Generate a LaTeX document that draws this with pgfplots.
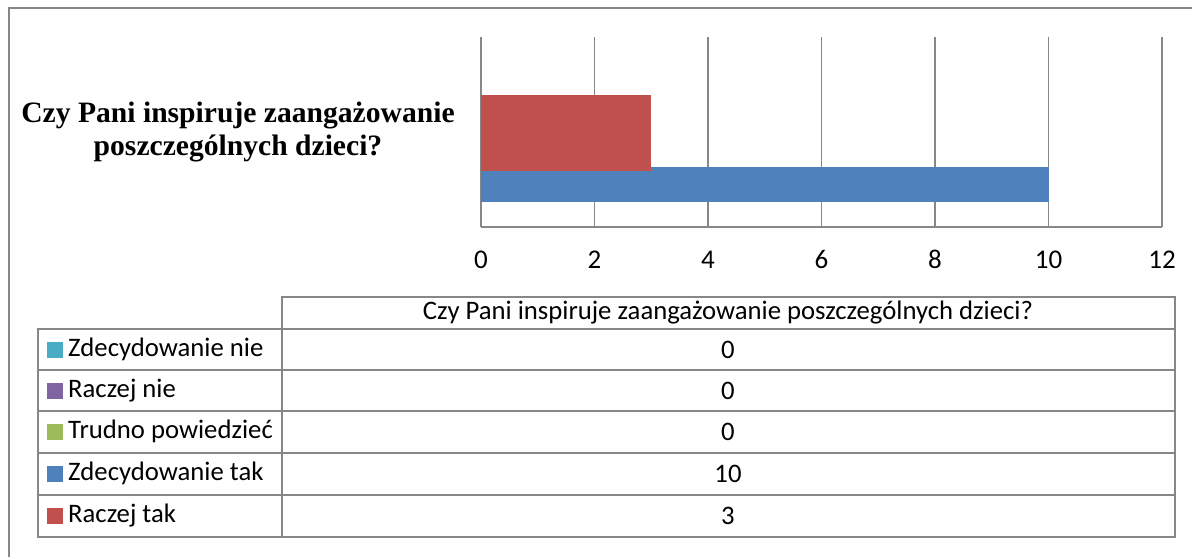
\documentclass[border=0pt]{standalone}
\usepackage{pgfplots}
\pgfplotsset{compat=1.18}
\usepackage{fontspec}
\setmainfont{Carlito}
\newfontfamily\titlefont{Liberation Serif}

\definecolor{xlblue}{HTML}{4F81BD}
\definecolor{xlred}{HTML}{C0504D}
\definecolor{xlgreen}{HTML}{9BBB59}
\definecolor{xlpurple}{HTML}{8064A2}
\definecolor{xlteal}{HTML}{4BACC6}
\definecolor{framegray}{HTML}{878787}

\begin{document}
\begin{tikzpicture}
  \path[use as bounding box] (0pt,0pt) rectangle (1192pt,-557pt);

  \begin{axis}[
      at={(481pt,-227pt)}, anchor=south west,
      scale only axis,
      width=681pt, height=190pt,
      xmin=0, xmax=12,
      ymin=0, ymax=190,
      xtick={0,2,...,12},
      ytick=\empty,
      hide y axis,
      axis x line*=bottom,
      x axis line style={framegray, line width=1.5pt, -},
      major tick length=0pt,
      xmajorgrids,
      grid style={framegray, line width=1.5pt},
      xticklabel style={font=\fontsize{27}{32}\selectfont, anchor=base, yshift=-41pt},
      /pgf/number format/assume math mode=true,
      clip=false,
    ]
    % Zdecydowanie tak
    \addplot[xbar, bar width=35, bar shift=0pt, fill=xlblue, draw=none]
      coordinates {(10,42.5)};
    % Raczej tak
    \addplot[xbar, bar width=76, bar shift=0pt, fill=xlred, draw=none]
      coordinates {(3,94)};
  \end{axis}

  \begin{scope}[x=1pt,y=-1pt]
  % outer chart frame (cut off on the right and bottom)
  \draw[framegray, line width=2pt] (9,557) -- (9,8) -- (1192,8);

  % category label
  \node[font=\titlefont\bfseries\fontsize{29.6}{33}\selectfont, align=center, anchor=center]
    at (238,132) {Czy Pani inspiruje zaangażowanie\\poszczególnych dzieci?};

  % data table
  \begin{scope}[framegray, line width=1.5pt]
    \draw (282,297) rectangle (1175,537);
    \draw (38,329) rectangle (282,537);
    \foreach \yy in {329,370,411,453,495} \draw (38,\yy) -- (1175,\yy);
  \end{scope}
  \begin{scope}[font=\fontsize{26.7}{32}\selectfont]
    \node at (728,313) {Czy Pani inspiruje zaangażowanie poszczególnych dzieci?};
    \foreach \c/\lab/\val [count=\i] in {xlteal/Zdecydowanie nie/0, xlpurple/Raczej nie/0,
        xlgreen/Trudno powiedzieć/0, xlblue/Zdecydowanie tak/10, xlred/Raczej tak/3} {
      \pgfmathsetmacro{\yc}{{329,370,411,453,495}[\i-1] + 20.5}
      \fill[\c] (47,\yc-8) rectangle (63,\yc+8);
      \node[anchor=west, inner sep=0pt] at (68,\yc) {\lab};
      \node at (728,\yc) {\val};
    }
  \end{scope}
  \end{scope}
\end{tikzpicture}
\end{document}
